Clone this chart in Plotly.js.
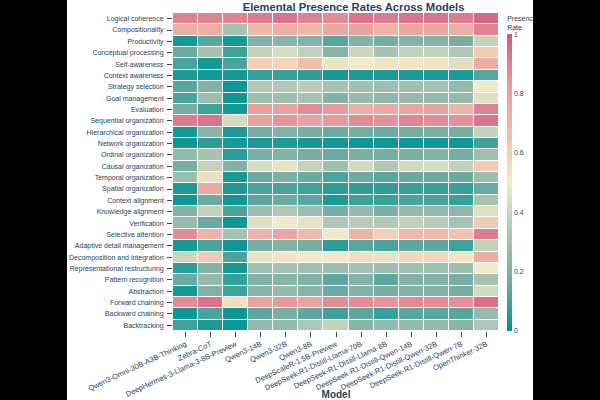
<!DOCTYPE html>
<html><head><meta charset="utf-8">
<script src="https://cdn.plot.ly/plotly-3.0.1.min.js"></script>
<style>html,body{margin:0;padding:0;background:#000;}#chart{width:466px;height:400px;margin-left:67px;background:#fff;}</style>
</head><body><div id="chart"></div>
<script>
const models = ["Qwen3-Omni-30B-A3B-Thinking","Zebra-CoT","DeepHermes-3-Llama-3-8B-Preview","Qwen3-14B","Qwen3-32B","Qwen3-8B","DeepScaleR-1.5B-Preview","DeepSeek-R1-Distill-Llama-70B","DeepSeek-R1-Distill-Llama-8B","DeepSeek-R1-Distill-Qwen-14B","DeepSeek-R1-Distill-Qwen-32B","DeepSeek-R1-Distill-Qwen-7B","OpenThinker-32B"];
const elements = ["Logical coherence","Compositionality","Productivity","Conceptual processing","Self-awareness","Context awareness","Strategy selection","Goal management","Evaluation","Sequential organization","Hierarchical organization","Network organization","Ordinal organization","Causal organization","Temporal organization","Spatial organization","Context alignment","Knowledge alignment","Verification","Selective attention","Adaptive detail management","Decomposition and integration","Representational restructuring","Pattern recognition","Abstraction","Forward chaining","Backward chaining","Backtracking"];
const rates = [
 [0.90,0.90,0.90,0.92,0.94,0.90,0.87,0.94,0.92,0.94,0.94,0.92,0.97],
 [0.75,0.75,0.30,0.70,0.75,0.70,0.78,0.80,0.72,0.78,0.78,0.75,0.90],
 [0.02,0.12,0.02,0.20,0.22,0.20,0.12,0.20,0.17,0.20,0.20,0.17,0.38],
 [0.15,0.30,0.08,0.38,0.43,0.37,0.22,0.40,0.30,0.37,0.37,0.32,0.62],
 [0.10,0.02,0.10,0.60,0.58,0.67,0.48,0.50,0.52,0.52,0.53,0.45,0.75],
 [0.03,0.02,0.02,0.07,0.07,0.06,0.02,0.03,0.03,0.03,0.03,0.03,0.12],
 [0.12,0.20,0.01,0.33,0.33,0.35,0.30,0.28,0.27,0.28,0.30,0.25,0.50],
 [0.10,0.27,0.01,0.27,0.27,0.30,0.20,0.25,0.23,0.25,0.25,0.25,0.45],
 [0.17,0.08,0.02,0.83,0.82,0.87,0.84,0.75,0.77,0.78,0.80,0.72,0.90],
 [0.92,0.94,0.42,0.80,0.85,0.80,0.84,0.88,0.86,0.89,0.87,0.86,0.94],
 [0.02,0.22,0.03,0.17,0.20,0.17,0.15,0.17,0.15,0.17,0.18,0.17,0.38],
 [0.01,0.05,0.02,0.03,0.03,0.02,0.01,0.01,0.01,0.01,0.01,0.01,0.08],
 [0.25,0.30,0.05,0.18,0.20,0.17,0.15,0.18,0.17,0.18,0.20,0.17,0.28],
 [0.17,0.38,0.20,0.43,0.47,0.38,0.28,0.42,0.33,0.42,0.43,0.37,0.62],
 [0.27,0.55,0.02,0.15,0.18,0.15,0.10,0.15,0.12,0.15,0.15,0.15,0.27],
 [0.03,0.77,0.03,0.10,0.10,0.08,0.05,0.06,0.06,0.07,0.07,0.07,0.15],
 [0.01,0.15,0.01,0.13,0.15,0.12,0.03,0.08,0.07,0.10,0.10,0.07,0.30],
 [0.20,0.38,0.10,0.27,0.32,0.27,0.17,0.25,0.18,0.25,0.25,0.23,0.45],
 [0.25,0.15,0.01,0.45,0.50,0.47,0.32,0.35,0.33,0.37,0.35,0.30,0.62],
 [0.87,0.72,0.30,0.72,0.78,0.68,0.50,0.72,0.60,0.70,0.70,0.65,0.92],
 [0.02,0.10,0.01,0.17,0.20,0.17,0.05,0.12,0.10,0.13,0.13,0.08,0.37],
 [0.40,0.63,0.10,0.48,0.52,0.50,0.50,0.55,0.47,0.57,0.57,0.52,0.75],
 [0.05,0.20,0.02,0.28,0.30,0.28,0.27,0.30,0.27,0.28,0.28,0.27,0.50],
 [0.15,0.25,0.07,0.20,0.22,0.20,0.13,0.20,0.13,0.20,0.20,0.17,0.30],
 [0.02,0.20,0.08,0.22,0.25,0.22,0.15,0.20,0.17,0.20,0.20,0.17,0.42],
 [0.87,0.94,0.55,0.80,0.84,0.80,0.88,0.87,0.85,0.88,0.88,0.86,0.95],
 [0.01,0.10,0.01,0.13,0.17,0.13,0.08,0.13,0.07,0.12,0.12,0.12,0.25],
 [0.08,0.03,0.01,0.25,0.25,0.32,0.38,0.22,0.25,0.25,0.25,0.22,0.32]
];
const tealrose = [[0,'rgb(0,147,146)'],[1/6,'rgb(114,170,161)'],[2/6,'rgb(177,199,179)'],[3/6,'rgb(241,234,200)'],[4/6,'rgb(239,189,170)'],[5/6,'rgb(232,154,154)'],[1,'rgb(208,88,126)']];
const F = 'Liberation Sans, Arial, sans-serif';
const trace = {
  type:'heatmap', x:models, y:elements, z:rates, zmin:0, zmax:1,
  colorscale:tealrose, xgap:1, ygap:1, opacity:0.97,
  colorbar:{title:{text:'Presence<br>Rate', side:'top', font:{size:7, family:F}}, thickness:5, len:1, lenmode:'fraction', x:1.025, xanchor:'left', xpad:0, ypad:0, y:0.5, tickfont:{size:7, family:F}, outlinewidth:0, tickvals:[0,0.2,0.4,0.6,0.8,1], ticklen:0}
};
const layout = {
  width:466, height:400,
  margin:{l:106, r:34, t:13, b:69, autoexpand:false},
  title:{text:'<b>Elemental Presence Rates Across Models</b>', x:0.615, xanchor:'center', xref:'container', yref:'container', y:0.982, yanchor:'middle', font:{size:11.2, color:'#2a3f5f', family:F}},
  xaxis:{title:{text:'<b>Model</b>', font:{size:10, family:F}, standoff:8}, tickangle:-25, tickfont:{size:7.5, family:F}, showgrid:false, automargin:false},
  yaxis:{autorange:'reversed', tickfont:{size:7, family:F}, showgrid:false, automargin:false, ticklabelstandoff:2},
  paper_bgcolor:'#fff', plot_bgcolor:'#fff',
  font:{color:'#2a3f5f', family:F}
};
Plotly.newPlot('chart',[trace],layout,{displayModeBar:false});
</script></body></html>
